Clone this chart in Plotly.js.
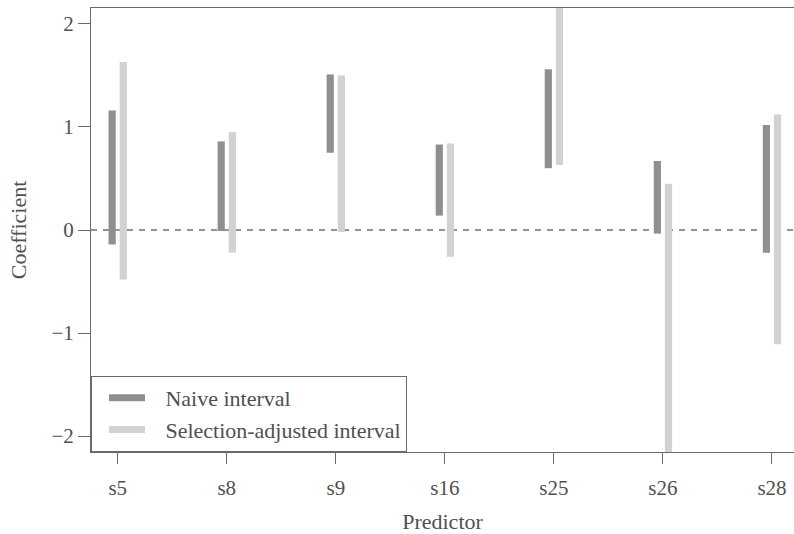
<!DOCTYPE html>
<html>
<head>
<meta charset="utf-8">
<script src="https://cdn.plot.ly/plotly-3.0.1.min.js"></script>
<style>
  html, body { margin: 0; padding: 0; background: #fff; overflow: hidden; }
  #chart { width: 794px; height: 534px; }
</style>
</head>
<body>
<div id="chart"></div>
<script>
// Predictors on the x axis
const predictors = ["s5", "s8", "s9", "s16", "s25", "s26", "s28"];

// Naive confidence interval bounds
const naiveLow  = [-0.14, -0.01, 0.75, 0.14, 0.60, -0.035, -0.22];
const naiveHigh = [ 1.16,  0.86, 1.51, 0.83, 1.56,  0.67,   1.02];

// Selection-adjusted interval bounds
const adjLow  = [-0.48, -0.22, -0.02, -0.26, 0.63, -2.60, -1.11];
const adjHigh = [ 1.63,  0.95,  1.50,  0.84, 2.40,  0.45,  1.12];

// Axis tick values
const yTicks = [-2, -1, 0, 1, 2];
const zeroLevel = 0;

const naiveColor = "#8f8f8f";
const adjColor = "#d2d2d2";
const textColor = "#505050";
const axisColor = "#6a6a6a";
const fontFamily = "'Liberation Serif', 'DejaVu Serif', serif";

const span = (lo, hi) => hi.map((h, i) => h - lo[i]);

const traces = [
  {
    type: "bar",
    x: predictors,
    y: span(naiveLow, naiveHigh),
    base: naiveLow,
    width: 0.066,
    offset: -0.084,
    marker: { color: naiveColor, line: { width: 0 } },
    showlegend: false,
    hoverinfo: "skip"
  },
  {
    type: "bar",
    x: predictors,
    y: span(adjLow, adjHigh),
    base: adjLow,
    width: 0.066,
    offset: 0.018,
    marker: { color: adjColor, line: { width: 0 } },
    showlegend: false,
    hoverinfo: "skip"
  },
  // legend entries drawn as thick line swatches
  {
    type: "scatter", mode: "lines", x: [null], y: [null],
    name: "\u2002\u2009Naive interval",
    line: { color: naiveColor, width: 7 }
  },
  {
    type: "scatter", mode: "lines", x: [null], y: [null],
    name: "\u2002\u2009Selection-adjusted interval",
    line: { color: adjColor, width: 7 }
  }
];

const layout = {
  width: 794,
  height: 534,
  margin: { l: 91, r: 0, t: 8, b: 82 },
  paper_bgcolor: "#ffffff",
  plot_bgcolor: "#ffffff",
  barmode: "overlay",
  font: { family: fontFamily, color: textColor, size: 21 },
  xaxis: {
    type: "category",
    categoryorder: "array",
    categoryarray: predictors,
    range: [-0.245, 6.202],
    showgrid: false,
    zeroline: false,
    showline: true,
    mirror: true,
    linecolor: axisColor,
    linewidth: 1,
    ticks: "outside",
    ticklen: 11,
    tickcolor: axisColor,
    ticklabelstandoff: 6,
    tickfont: { size: 21, color: textColor, family: fontFamily },
    title: { text: "Predictor", font: { size: 22, color: textColor, family: fontFamily }, standoff: 14 }
  },
  yaxis: {
    range: [-2.155, 2.155],
    tickvals: yTicks,
    ticktext: yTicks.map(v => v < 0 ? "\u2212" + Math.abs(v) : String(v)),
    showgrid: false,
    zeroline: false,
    showline: true,
    linecolor: axisColor,
    linewidth: 1,
    ticks: "outside",
    ticklen: 12,
    tickcolor: axisColor,
    tickfont: { size: 21, color: textColor, family: fontFamily },
    title: { text: "Coefficient", font: { size: 22, color: textColor, family: fontFamily }, standoff: 18 }
  },
  shapes: [
    {
      type: "line", xref: "paper", yref: "y",
      x0: 0, x1: 1, y0: zeroLevel, y1: zeroLevel,
      line: { color: "#707070", width: 1.3, dash: "6px,6px" },
      layer: "below"
    }
  ],
  showlegend: true,
  legend: {
    x: 0, y: 0, xanchor: "left", yanchor: "bottom",
    bgcolor: "#ffffff",
    bordercolor: axisColor,
    borderwidth: 1,
    font: { size: 22, color: textColor, family: fontFamily },
    indentation: 12,
    itemwidth: 36
  }
};

Plotly.newPlot("chart", traces, layout, { displayModeBar: false, staticPlot: true });
</script>
</body>
</html>
